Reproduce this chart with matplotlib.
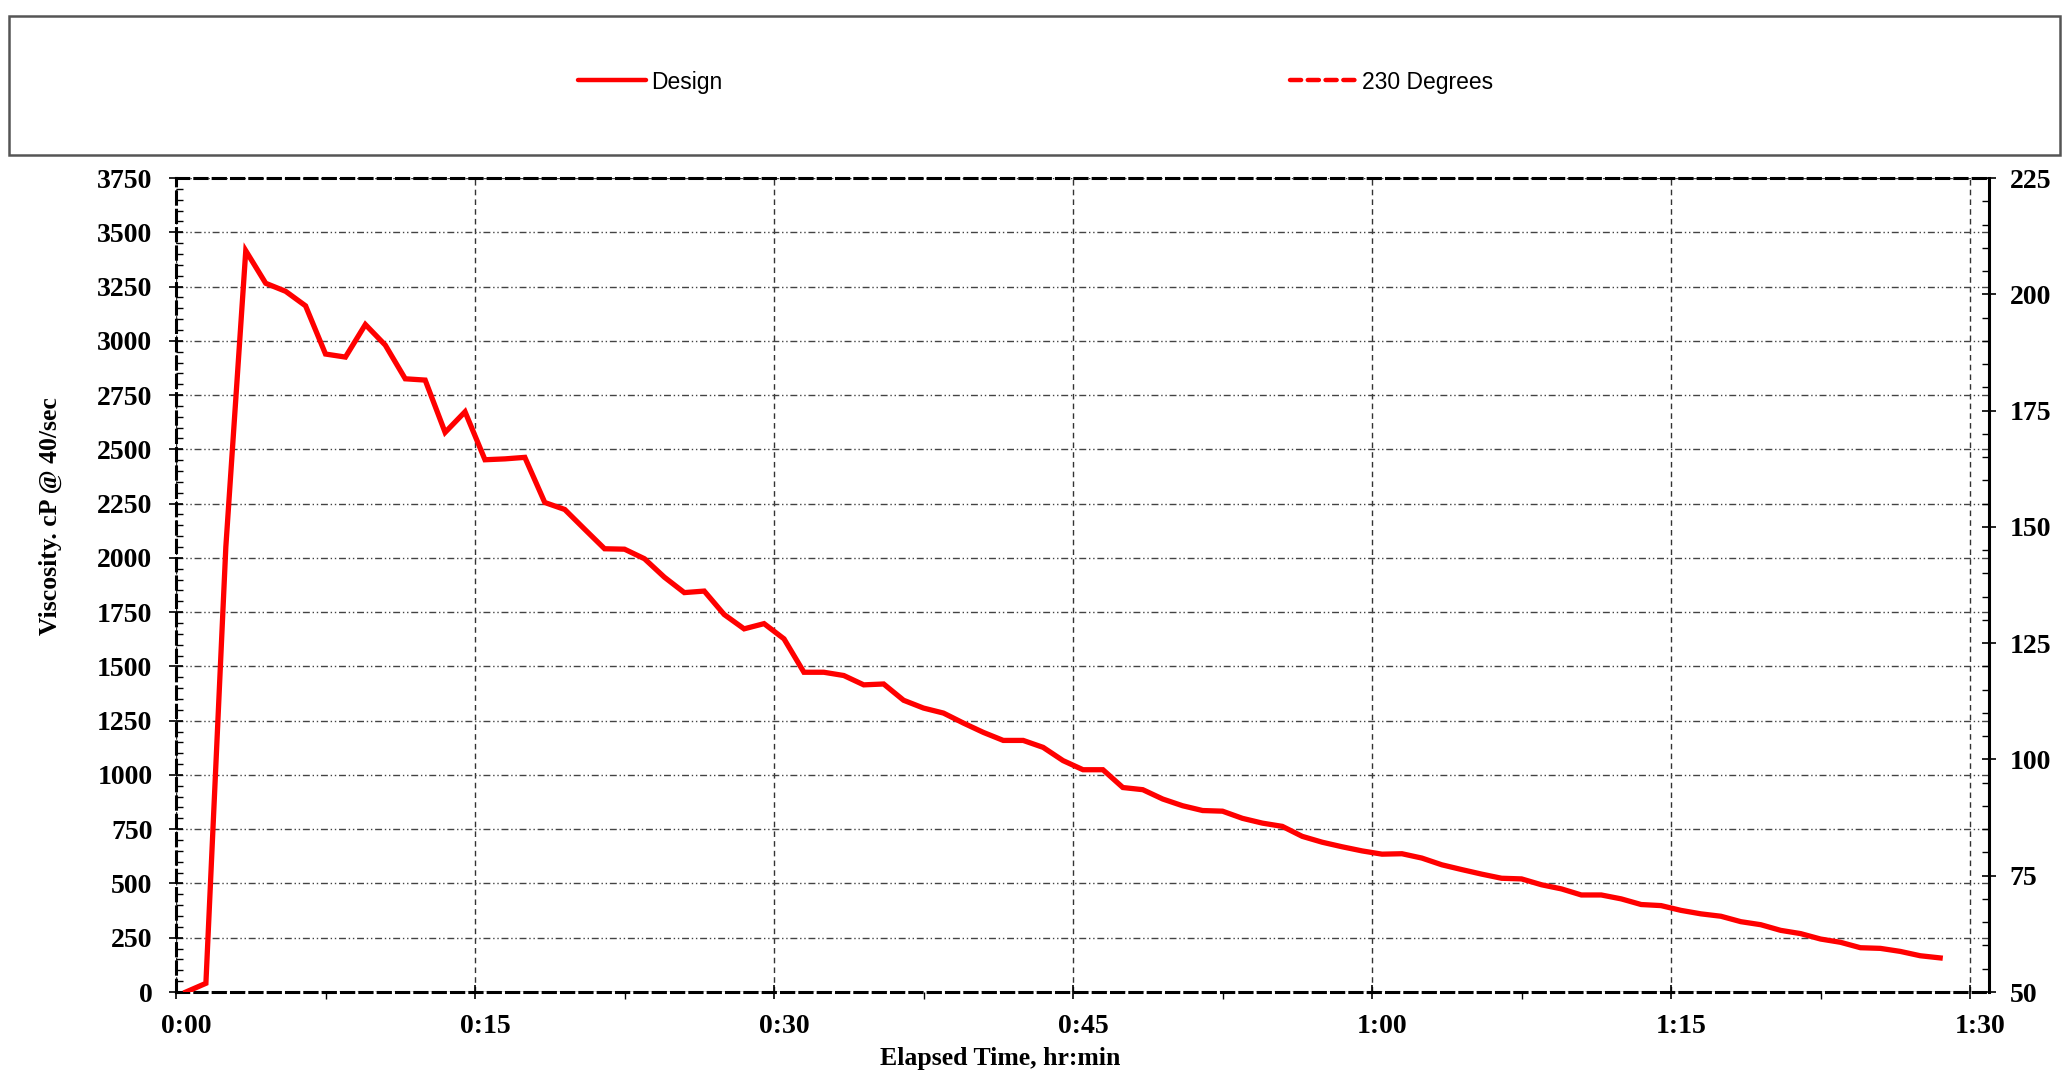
import matplotlib
matplotlib.use("Agg")
import matplotlib.pyplot as plt
from matplotlib.ticker import MultipleLocator, FuncFormatter
from matplotlib.patches import Rectangle
from matplotlib.lines import Line2D
import matplotlib.transforms as mtransforms

# elapsed time in minutes, viscosity in cP
minutes = [0.5 + i for i in range(89)]
viscosity = [0, 40, 2050, 3415, 3265, 3228, 3161, 2939, 2925, 3075,
             2980, 2825, 2819, 2578, 2673, 2452, 2456, 2463, 2255, 2223,
             2132, 2042, 2040, 1996, 1911, 1840, 1847, 1739, 1673, 1697,
             1627, 1473, 1473, 1458, 1415, 1419, 1344, 1308, 1285, 1239,
             1196, 1159, 1159, 1127, 1066, 1024, 1024, 942, 932, 889,
             858, 836, 833, 800, 778, 763, 717, 690, 669, 650,
             635, 637, 617, 586, 564, 543, 524, 521, 494, 475,
             447, 447, 429, 403, 398, 376, 360, 349, 324, 310,
             284, 269, 244, 229, 204, 201, 187, 167, 157]
# second series (temperature, right axis) has no points inside the plotted range
temp_minutes = []
temp_230 = []

serif = "Liberation Serif"
sans = "Liberation Sans"

fig = plt.figure(figsize=(20.71, 10.73), dpi=100)
ax = fig.add_axes([176/2071, 81/1073, (1989-176)/2071, (992-178)/1073])
ax2 = ax.twinx()

ax.plot(minutes, viscosity, color="red", lw=3.8, solid_joinstyle="miter", zorder=5)
ax2.plot(temp_minutes, temp_230, color="red", lw=3.8, ls=(0, (2.5, 1.5)))

ax.set_xlim(0, 90.95)
ax.set_ylim(0, 3750)
ax2.set_ylim(50, 225)

ax.xaxis.set_major_locator(MultipleLocator(15))
ax.xaxis.set_minor_locator(MultipleLocator(7.5))
ax.xaxis.set_major_formatter(FuncFormatter(lambda v, p: f"{int(v // 60)}:{int(round(v % 60)):02d}"))
ax.yaxis.set_major_locator(MultipleLocator(250))
ax.yaxis.set_minor_locator(MultipleLocator(50))
ax2.yaxis.set_major_locator(MultipleLocator(25))
ax2.yaxis.set_minor_locator(MultipleLocator(5))

ax.grid(True, axis="y", which="major", color="#444444", lw=1.0, ls=(0, (5, 2, 1, 2, 1, 2)))
ax.grid(True, axis="x", which="major", color="#333333", lw=1.0, ls=(0, (4, 3)))

for s in ["top", "bottom", "left"]:
    ax.spines[s].set_linestyle((0, (4, 2)))
    ax.spines[s].set_linewidth(2.2)
ax.spines["right"].set_visible(False)
for s in ["top", "bottom", "left"]:
    ax2.spines[s].set_visible(False)
ax2.spines["right"].set_linewidth(2.2)

ax.tick_params(axis="y", which="major", direction="inout", length=10, width=1.2, pad=12)
ax.tick_params(axis="y", which="minor", direction="in", length=5, width=1.0)
ax.tick_params(axis="x", which="major", direction="inout", length=10, width=1.2, pad=10.5)
ax.tick_params(axis="x", which="minor", direction="out", length=5, width=1.0)
ax2.tick_params(axis="y", which="major", direction="inout", length=10, width=1.2, pad=10)
ax2.tick_params(axis="y", which="minor", direction="in", length=5, width=1.0)

for lab in ax.get_xticklabels() + ax.get_yticklabels() + ax2.get_yticklabels():
    lab.set_fontfamily(serif)
    lab.set_fontweight("bold")
    lab.set_fontsize(20)

offset = mtransforms.ScaledTranslation(10/100, 0, fig.dpi_scale_trans)
for lab in ax.get_xticklabels():
    lab.set_transform(lab.get_transform() + offset)

fig.text(1000/2071, 1 - 1059/1073, "Elapsed Time, hr:min", family=serif, weight="bold",
         fontsize=18.5, ha="center", va="center")
fig.text(50/2071, 1 - 516/1073, "Viscosity. cP @ 40/sec", family=serif, weight="bold",
         fontsize=18.5, ha="center", va="center", rotation=90)

# legend box
fig.patches.append(Rectangle((9/2071, 1 - 155/1073), (2060-9)/2071, (155-16)/1073,
                             transform=fig.transFigure, fill=False, edgecolor="#555555", lw=1.8))
handles = [Line2D([], [], color="red", lw=3.2, solid_capstyle="round"),
           Line2D([], [], color="red", lw=3.2, ls=(0, (2.5, 1.5)), dash_capstyle="round")]
fig.legend(handles, ["Design", "230 Degrees"], loc="center", ncol=2,
           bbox_to_anchor=(1036/2071, 1 - 82/1073), frameon=False,
           prop={"family": sans, "size": 16.5}, handlelength=2.95, handletextpad=0.2,
           columnspacing=24.8)

fig.savefig("out.png", dpi=100)
